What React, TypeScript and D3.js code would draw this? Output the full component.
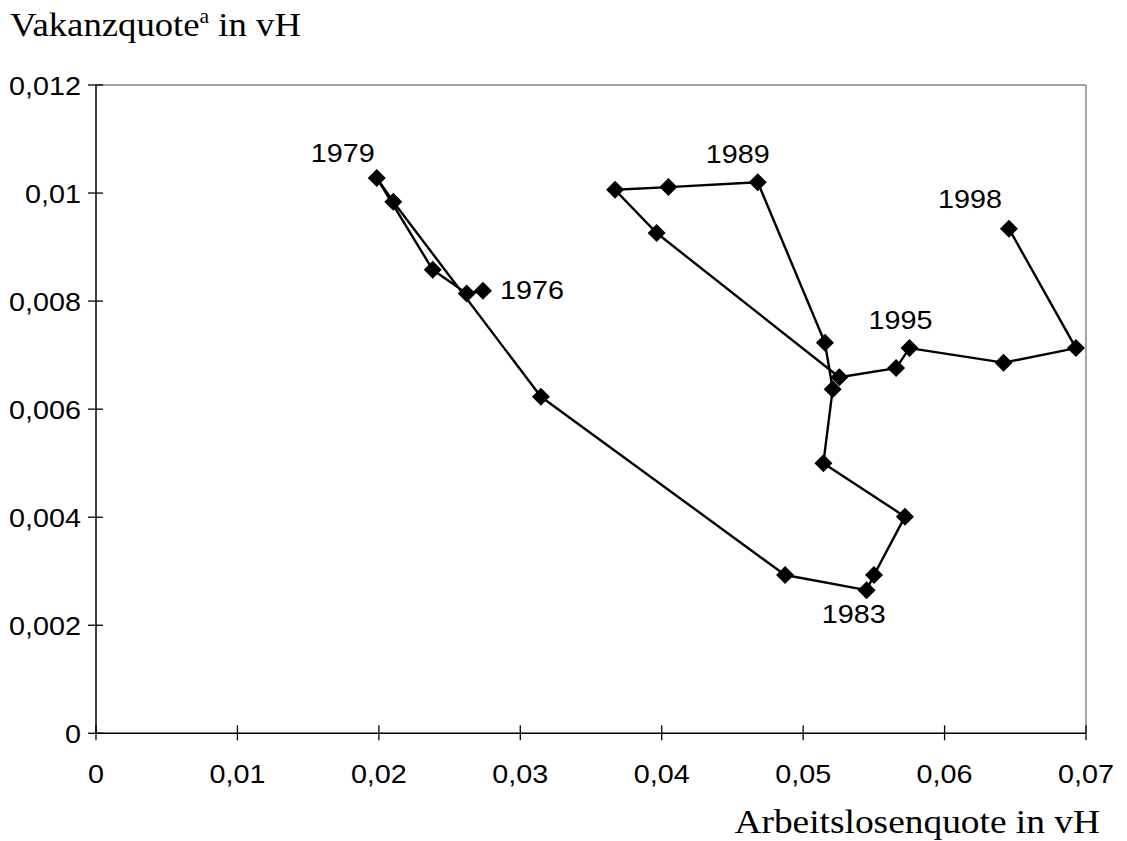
import React from "react";
import * as d3 from "d3";

const years = [1976, 1977, 1978, 1979, 1980, 1981, 1982, 1983, 1984, 1985, 1986, 1987, 1988, 1989, 1990, 1991, 1992, 1993, 1994, 1995, 1996, 1997, 1998];
const arbeitslosenquote = [0.02736, 0.02621, 0.02381, 0.01985, 0.02102, 0.03146, 0.04872, 0.05449, 0.05501, 0.0572, 0.05143, 0.05209, 0.05154, 0.04679, 0.04047, 0.0367, 0.03964, 0.05256, 0.05657, 0.05752, 0.06417, 0.06929, 0.06455];
const vakanzquote = [0.00819, 0.00814, 0.00858, 0.01028, 0.00984, 0.00623, 0.00293, 0.00265, 0.00293, 0.00401, 0.005, 0.00637, 0.00723, 0.0102, 0.01011, 0.01006, 0.00926, 0.00659, 0.00676, 0.00713, 0.00686, 0.00713, 0.00934];
const labelledYears = [1976, 1979, 1983, 1989, 1995, 1998];
const xTicks = [0, 0.01, 0.02, 0.03, 0.04, 0.05, 0.06, 0.07];
const yTicks = [0, 0.002, 0.004, 0.006, 0.008, 0.01, 0.012];

const labelPlacement: Record<number, { dx: number; dy: number; anchor: string }> = {
  1976: { dx: 17, dy: 8, anchor: "start" },
  1979: { dx: -2, dy: -16, anchor: "end" },
  1983: { dx: -13, dy: 33, anchor: "middle" },
  1989: { dx: -20, dy: -19, anchor: "middle" },
  1995: { dx: -9, dy: -19, anchor: "middle" },
  1998: { dx: -39, dy: -21, anchor: "middle" },
};

const locale = d3.formatLocale({ decimal: ",", thousands: ".", grouping: [3], currency: ["", "€"] });
const fmt = locale.format("~g");

const SANS = "'Liberation Sans', Arial, sans-serif";
const SERIF = "'Liberation Serif', 'Times New Roman', serif";
const SX = 1.15;

export default function App() {
  const x = d3.scaleLinear().domain([0, 0.07]).range([96, 1086]);
  const y = d3.scaleLinear().domain([0, 0.012]).range([733.3, 85]);
  const pts = years.map((yr, i) => ({ yr, u: arbeitslosenquote[i], v: vakanzquote[i] }));
  const line = d3.line<{ u: number; v: number }>().x((d) => x(d.u)).y((d) => y(d.v));
  const diamond = "M0,-9L9,0L0,9L-9,0Z";

  const txt = (key: string, px: number, py: number, s: string, anchor: string, size: number, family: string, sx: number) => (
    <text key={key} transform={`translate(${px},${py}) scale(${sx},1)`} textAnchor={anchor} fontSize={size} fontFamily={family} fill="#000">
      {s}
    </text>
  );

  return (
    <svg width={1127} height={841} style={{ position: "absolute", left: 0, top: 0, background: "#fff" }}>
      <rect x={0} y={0} width={1127} height={841} fill="#fff" />
      {/* plot frame */}
      <line x1={x(0)} x2={x(0.07)} y1={y(0.012)} y2={y(0.012)} stroke="#808080" strokeWidth={1.4} />
      <line x1={x(0.07)} x2={x(0.07)} y1={y(0.012)} y2={y(0)} stroke="#808080" strokeWidth={1.4} />
      {/* axes */}
      <line x1={x(0)} x2={x(0.07)} y1={y(0)} y2={y(0)} stroke="#000" strokeWidth={1.5} />
      <line x1={x(0)} x2={x(0)} y1={y(0.012)} y2={y(0)} stroke="#000" strokeWidth={1.5} />
      {xTicks.map((t) => (
        <g key={"xt" + t}>
          <line x1={x(t)} x2={x(t)} y1={y(0) - 8} y2={y(0) + 7} stroke="#000" strokeWidth={1.3} />
          {txt("xl" + t, x(t), 783, fmt(t), "middle", 25, SANS, SX)}
        </g>
      ))}
      {yTicks.map((t) => (
        <g key={"yt" + t}>
          <line x1={x(0) - 8} x2={x(0) + 7} y1={y(t)} y2={y(t)} stroke="#000" strokeWidth={1.3} />
          {txt("yl" + t, 81, y(t) + 9.5, fmt(t), "end", 25, SANS, SX)}
        </g>
      ))}
      {/* data */}
      <path d={line(pts) || ""} fill="none" stroke="#000" strokeWidth={2.4} strokeLinejoin="round" />
      {pts.map((p) => (
        <path key={"m" + p.yr} d={diamond} transform={`translate(${x(p.u)},${y(p.v)})`} fill="#000" />
      ))}
      {pts
        .filter((p) => labelledYears.includes(p.yr))
        .map((p) => {
          const lp = labelPlacement[p.yr];
          return txt("dl" + p.yr, x(p.u) + lp.dx, y(p.v) + lp.dy, String(p.yr), lp.anchor, 25, SANS, SX);
        })}
      {/* axis titles */}
      <text transform={`translate(10,36) scale(1.08,1)`} fontSize={34} fontFamily={SERIF} fill="#000">
        Vakanzquote
        <tspan fontSize={20} dy={-13}>a</tspan>
        <tspan dy={13}> in vH</tspan>
      </text>
      <text transform={`translate(1100,833) scale(1.1,1)`} fontSize={34} fontFamily={SERIF} fill="#000" textAnchor="end">
        Arbeitslosenquote in vH
      </text>
    </svg>
  );
}
